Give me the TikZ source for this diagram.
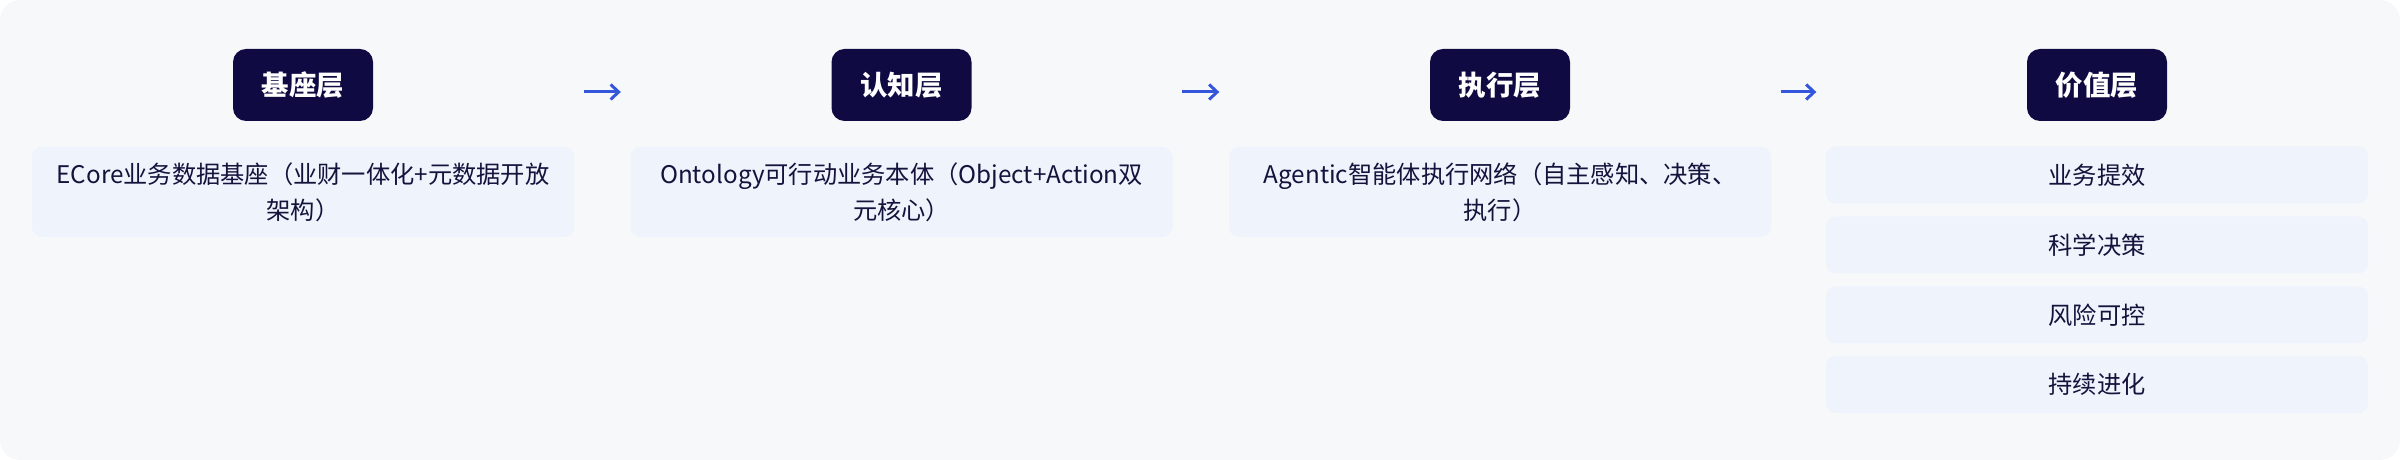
\documentclass[tikz,border=0pt]{standalone}
\usepackage{fontspec}
\setmainfont{Noto Sans CJK SC}
\usetikzlibrary{arrows.meta}
\definecolor{panelbg}{HTML}{F7F8FA}
\definecolor{layerdark}{HTML}{100A42}
\definecolor{itembg}{HTML}{EEF3FC}
\definecolor{itemtext}{HTML}{15123C}
\definecolor{flowblue}{HTML}{3456DC}
\begin{document}
\begin{tikzpicture}[
    layer/.style={fill=layerdark, text=white, rounded corners=1.3mm,
      minimum width=1.40cm, minimum height=0.72cm, inner sep=0pt,
      font=\fontsize{7.8}{9}\selectfont\bfseries},
    item/.style={fill=itembg, text=itemtext, rounded corners=1mm,
      minimum width=5.42cm, inner sep=0pt, align=center,
      font=\fontsize{6.9}{10.2}\selectfont},
    flow/.style={->, line width=0.85pt, color=flowblue,
      >={Straight Barb[length=0.8mm, width=1.5mm]},
      shorten <=2.10cm, shorten >=2.10cm}
  ]
    \useasboundingbox (0,0) rectangle (24,-4.6);
    \fill[panelbg, rounded corners=2mm] (0,0) rectangle (24,-4.6);
    % layer titles
    \node (base)  [layer] at (3.03,-0.85)  {基座层};
    \node (cogn)  [layer] at (9.015,-0.85) {认知层};
    \node (exec)  [layer] at (15.0,-0.85)  {执行层};
    \node (value) [layer] at (20.97,-0.85) {价值层};
    \draw[flow] ([yshift=-0.07cm]base.east) -- ([yshift=-0.07cm]cogn.west);
    \draw[flow] ([yshift=-0.07cm]cogn.east) -- ([yshift=-0.07cm]exec.west);
    \draw[flow] ([yshift=-0.07cm]exec.east) -- ([yshift=-0.07cm]value.west);
    % descriptions
    \node (baseDesc) [item, minimum height=0.90cm] at (3.03,-1.92)
      {ECore业务数据基座（业财一体化+元数据开放\\架构）};
    \node (cognDesc) [item, minimum height=0.90cm] at (9.015,-1.92)
      {Ontology可行动业务本体（Object+Action双\\元核心）};
    \node (execDesc) [item, minimum height=0.90cm] at (15.0,-1.92)
      {Agentic智能体执行网络（自主感知、决策、\\执行）};
    \node (valueA) [item, minimum height=0.57cm] at (20.97,-1.75) {业务提效};
    \node (valueB) [item, minimum height=0.57cm] at (20.97,-2.45) {科学决策};
    \node (valueC) [item, minimum height=0.57cm] at (20.97,-3.15) {风险可控};
    \node (valueD) [item, minimum height=0.57cm] at (20.97,-3.845) {持续进化};
  \end{tikzpicture}
\end{document}
